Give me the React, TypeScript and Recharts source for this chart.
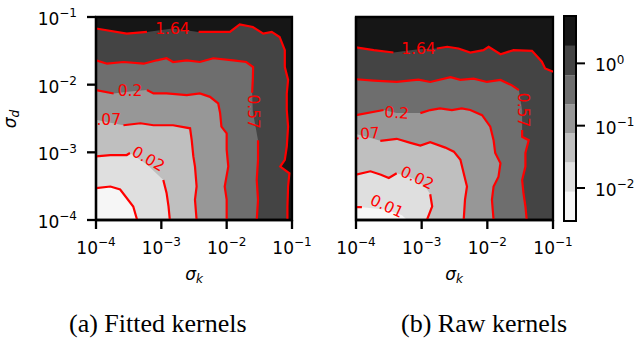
import React from "react";
import {
  ComposedChart,
  Area,
  Line,
  Scatter,
  XAxis,
  YAxis,
  CartesianGrid,
  ReferenceArea,
} from "recharts";

// contour paths in log10 units: [log sigma_k, log sigma_d, 1 = hidden under the inline label]
const fitted001 = [[-4, -3.53], [-3.78, -3.505], [-3.63, -3.55], [-3.43, -3.8], [-3.37, -4]];
const fitted002 = [[-4, -3.06], [-3.78, -3.04], [-3.53, -3.04], [-3.48, -3.01], [-3.22, -3.18, 1], [-2.97, -3.41], [-2.92, -3.6], [-2.89, -3.8], [-2.87, -4]];
const fitted007 = [[-4, -2.52, 1], [-3.8, -2.56, 1], [-3.58, -2.6], [-3.32, -2.57], [-3.12, -2.6], [-2.82, -2.6], [-2.56, -2.645], [-2.535, -2.82], [-2.51, -3.06], [-2.485, -3.21], [-2.46, -3.505], [-2.485, -3.7], [-2.46, -4]];
const fitted02 = [[-4, -2.08], [-3.73, -2.13], [-3.48, -2.1, 1], [-3.22, -2.08], [-3.12, -2.13], [-2.92, -2.13], [-2.61, -2.155], [-2.41, -2.13], [-2.255, -2.18], [-2.13, -2.276], [-2.1, -2.42], [-2.08, -2.62], [-2.0, -2.72], [-2.0, -2.96], [-1.975, -3.21], [-2.03, -3.505], [-2.0, -3.7], [-2.0, -4]];
const fitted057 = [[-4, -1.64], [-3.83, -1.69], [-3.58, -1.665], [-3.27, -1.69], [-3.07, -1.64], [-2.92, -1.61], [-2.82, -1.665], [-2.61, -1.64], [-2.41, -1.665], [-2.205, -1.61], [-1.9, -1.64], [-1.7, -1.665], [-1.595, -1.74], [-1.6, -1.93], [-1.61, -2.12], [-1.6, -2.4, 1], [-1.52, -2.82], [-1.52, -3.11], [-1.54, -3.41], [-1.52, -3.7], [-1.54, -4]];
const fitted164 = [[-4, -1.17], [-3.53, -1.245], [-3.22, -1.22], [-2.83, -1.17, 1], [-2.43, -1.22], [-1.95, -1.22], [-1.8, -1.11], [-1.6, -1.147], [-1.44, -1.245], [-1.31, -1.22], [-1.19, -1.295], [-1.11, -1.49], [-1.11, -1.74], [-1.06, -1.93], [-1.08, -2.13], [-1.08, -2.375], [-1.06, -2.62], [-1.08, -2.915], [-1.11, -3.11], [-1.18, -3.21], [-1.04, -3.31], [-1.06, -3.505], [-1.07, -3.8], [-1.07, -4]];

const raw001 = [[-4, -3.81], [-3.91, -3.81], [-3.53, -3.85, 1], [-3.3, -3.93, 1], [-3.22, -4, 1]];
const raw002 = [[-4, -3.33], [-3.78, -3.28], [-3.62, -3.33], [-3.5, -3.38], [-3.38, -3.31], [-3.15, -3.38, 1], [-2.95, -3.5, 1], [-2.87, -3.62], [-2.84, -3.8], [-2.92, -4]];
const raw007 = [[-4, -2.73, 1], [-3.8, -2.78, 1], [-3.63, -2.83], [-3.38, -2.8], [-3.17, -2.86], [-3.02, -2.9], [-2.87, -2.85], [-2.64, -2.93], [-2.51, -2.99], [-2.41, -3.11], [-2.36, -3.31], [-2.31, -3.505], [-2.34, -3.7], [-2.36, -4]];
const raw02 = [[-4, -2.45], [-3.58, -2.375], [-3.38, -2.42, 1], [-3.02, -2.42], [-2.87, -2.375], [-2.72, -2.35], [-2.54, -2.375], [-2.39, -2.35], [-2.26, -2.375], [-2.08, -2.45], [-1.955, -2.62], [-1.905, -2.82], [-1.88, -3.01], [-1.8, -3.16], [-1.83, -3.36], [-1.905, -3.505], [-1.93, -3.7], [-1.905, -4]];
const raw057 = [[-4, -1.92], [-3.73, -1.94], [-3.38, -1.96], [-3.05, -1.925], [-2.87, -1.96], [-2.56, -1.89], [-2.41, -1.93], [-2.21, -1.91], [-2.005, -1.96], [-1.8, -1.93], [-1.625, -2.01], [-1.52, -2.08], [-1.47, -2.375, 1], [-1.47, -2.67], [-1.47, -2.77], [-1.37, -2.82], [-1.42, -3.01], [-1.42, -3.21], [-1.47, -3.41], [-1.45, -3.6], [-1.42, -3.8], [-1.4, -4]];
const raw164 = [[-4, -1.45], [-3.73, -1.49], [-3.43, -1.525], [-3.05, -1.475, 1], [-2.77, -1.466], [-2.61, -1.44], [-2.44, -1.466], [-2.26, -1.525], [-2.06, -1.49], [-1.98, -1.44], [-1.8, -1.55], [-1.6, -1.49], [-1.32, -1.5], [-1.17, -1.66], [-1.12, -1.76], [-1, -1.81]];

const fittedLabels = [
  { x: -3.2, y: -3.1, text: "0.02", angle: 30 },
  { x: -3.88, y: -2.52, text: "0.07", angle: 0 },
  { x: -3.48, y: -2.1, text: "0.2", angle: 0 },
  { x: -1.6, y: -2.4, text: "0.57", angle: 90 },
  { x: -2.83, y: -1.17, text: "1.64", angle: 0 },
];
const rawLabels = [
  { x: -3.53, y: -3.8, text: "0.01", angle: 25 },
  { x: -3.07, y: -3.38, text: "0.02", angle: 25 },
  { x: -3.9, y: -2.73, text: "0.07", angle: -4 },
  { x: -3.38, y: -2.42, text: "0.2", angle: 4 },
  { x: -1.45, y: -2.375, text: "0.57", angle: 90 },
  { x: -3.05, y: -1.475, text: "1.64", angle: 0 },
];

// light -> dark, one more band than contour levels
const bandColors = ["#f6f6f6", "#dfdfdf", "#bfbfbf", "#979797", "#6e6e6e", "#444444", "#161616"];
const cbEdges = [-2.53, -2.06, -1.59, -1.12, -0.66, -0.19, 0.28, 0.76];
const decadeTicks = [-4, -3, -2, -1];
const cbTicks = [-2, -1, 0];

const FONT = "DejaVu Sans";

// region above a contour: close along the bottom edge when the path ends there
const toFill = (pts: number[][]) => {
  const rows = pts.map(([x, y]) => ({ x, y }));
  const last = pts[pts.length - 1];
  if (last[1] === -4) rows.push({ x: -1, y: -4 });
  return rows;
};
const toLine = (pts: number[][]) => pts.map(([x, y, g]) => ({ x, y: g ? null : y }));

const expText = (v: number) => (Math.round(v) === 0 ? "0" : "\u2212" + Math.abs(Math.round(v)));

const PowTick = ({ x, y, payload, anchor, dx, dy }: any) => (
  <text x={x + dx} y={y + dy} textAnchor={anchor} fontFamily={FONT} fontSize={17} fill="#000">
    10
    <tspan dy={-7.6} fontSize={12}>
      {expText(payload.value)}
    </tspan>
  </text>
);

const LabelShape = (p: any) => {
  const { cx, cy, payload } = p;
  return (
    <text
      x={cx}
      y={cy}
      transform={`rotate(${payload.angle} ${cx} ${cy})`}
      textAnchor="middle"
      dominantBaseline="central"
      fontFamily={FONT}
      fontSize={15.5}
      fill="#ff0000"
    >
      {payload.text}
    </text>
  );
};

function Panel({ contours, labels, left, width, yWidth, right, showY }: any) {
  return (
    <div style={{ position: "absolute", left, top: 0 }}>
      <ComposedChart width={width} height={300} margin={{ top: 17, right, bottom: 20, left: 0 }}>
        <CartesianGrid fill={bandColors[0]} horizontal={false} vertical={false} />
        <XAxis
          type="number"
          dataKey="x"
          domain={[-4, -1]}
          ticks={decadeTicks}
          interval={0}
          allowDataOverflow
          height={60}
          tickSize={9}
          tickMargin={0}
          axisLine={{ stroke: "#000", strokeWidth: 2.3 }}
          tickLine={{ stroke: "#000", strokeWidth: 2.3 }}
          tick={(p: any) => <PowTick x={p.x} y={p.y} payload={p.payload} anchor="middle" dx={0} dy={25} />}
        />
        <YAxis
          type="number"
          domain={[-4, -1]}
          ticks={decadeTicks}
          interval={0}
          allowDataOverflow
          width={yWidth}
          tickSize={9}
          tickMargin={0}
          axisLine={{ stroke: "#000", strokeWidth: 2.3 }}
          tickLine={showY ? { stroke: "#000", strokeWidth: 2.3 } : false}
          tick={showY ? (p: any) => <PowTick x={p.x} y={p.y} payload={p.payload} anchor="end" dx={-10} dy={8} /> : false}
        />
        {contours.map((c: number[][], i: number) => (
          <Area
            key={"a" + i}
            data={toFill(c)}
            dataKey="y"
            type="linear"
            baseValue="dataMax"
            stroke="none"
            fill={bandColors[i + 1]}
            fillOpacity={1}
            isAnimationActive={false}
            activeDot={false}
          />
        ))}
        {contours.map((c: number[][], i: number) => (
          <Line
            key={"l" + i}
            data={toLine(c)}
            dataKey="y"
            type="linear"
            stroke="#ff0000"
            strokeWidth={2.2}
            dot={false}
            activeDot={false}
            connectNulls={false}
            isAnimationActive={false}
          />
        ))}
        <Scatter data={labels} dataKey="y" shape={LabelShape} isAnimationActive={false} />
        <ReferenceArea x1={-4} x2={-1} y1={-4} y2={-1} fill="none" stroke="#000" strokeWidth={2.3} ifOverflow="visible" />
      </ComposedChart>
    </div>
  );
}

function ColorBar() {
  return (
    <div style={{ position: "absolute", left: 540, top: 0 }}>
      <ComposedChart width={95} height={300} margin={{ top: 16, right: 0, bottom: 79, left: 24 }} data={[{ x: 0 }, { x: 1 }]}>
        <XAxis type="number" dataKey="x" domain={[0, 1]} hide />
        <YAxis
          type="number"
          orientation="right"
          domain={[cbEdges[0], cbEdges[cbEdges.length - 1]]}
          ticks={cbTicks}
          interval={0}
          allowDataOverflow
          width={59}
          tickSize={9}
          tickMargin={0}
          axisLine={false}
          tickLine={{ stroke: "#000", strokeWidth: 2 }}
          tick={(p: any) => <PowTick x={p.x} y={p.y} payload={p.payload} anchor="start" dx={10} dy={8} />}
        />
        {bandColors.map((c, i) => (
          <ReferenceArea key={i} y1={cbEdges[i]} y2={cbEdges[i + 1]} fill={c} fillOpacity={1} stroke="none" />
        ))}
        <ReferenceArea y1={cbEdges[0]} y2={cbEdges[cbEdges.length - 1]} fill="none" stroke="#000" strokeWidth={2} />
      </ComposedChart>
    </div>
  );
}

export default function App() {
  return (
    <div style={{ position: "absolute", left: 0, top: 0, width: 635, height: 341, background: "#fff" }}>
      <Panel
        contours={[fitted001, fitted002, fitted007, fitted02, fitted057, fitted164]}
        labels={fittedLabels}
        left={0}
        width={318}
        yWidth={96}
        right={26}
        showY
      />
      <Panel
        contours={[raw001, raw002, raw007, raw02, raw057, raw164]}
        labels={rawLabels}
        left={318}
        width={270}
        yWidth={38}
        right={35}
        showY={false}
      />
      <ColorBar />
      <svg width={635} height={341} style={{ position: "absolute", left: 0, top: 0, pointerEvents: "none" }}>
        <text x={16} y={119} transform="rotate(-90 16 119)" textAnchor="middle" fontFamily={FONT} fontStyle="italic" fontSize={17}>
          σ<tspan fontSize={12} dy={3}>d</tspan>
        </text>
        <text x={194} y={280} textAnchor="middle" fontFamily={FONT} fontStyle="italic" fontSize={17}>
          σ<tspan fontSize={12} dy={3}>k</tspan>
        </text>
        <text x={454} y={280} textAnchor="middle" fontFamily={FONT} fontStyle="italic" fontSize={17}>
          σ<tspan fontSize={12} dy={3}>k</tspan>
        </text>
        <text x={69} y={332} fontFamily="Liberation Serif" fontSize={26}>
          (a) Fitted kernels
        </text>
        <text x={401} y={332} fontFamily="Liberation Serif" fontSize={26}>
          (b) Raw kernels
        </text>
      </svg>
    </div>
  );
}
